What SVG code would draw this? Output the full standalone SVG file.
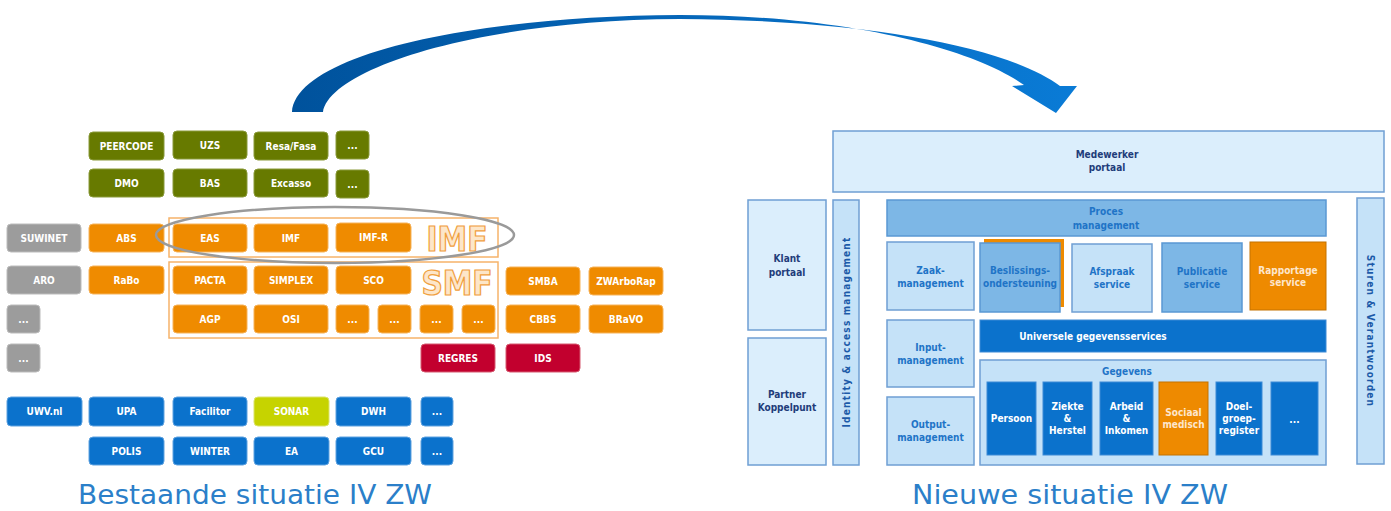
<svg xmlns="http://www.w3.org/2000/svg" width="1391" height="511" viewBox="0 0 1391 511">
<defs>
<linearGradient id="arrowGrad" x1="0" y1="0" x2="1" y2="0">
<stop offset="0" stop-color="#00529c"/>
<stop offset="1" stop-color="#0a7bd6"/>
</linearGradient>
<style>
.bx{stroke-width:1;rx:4;ry:4}
.g{fill:#677a00;stroke:#8a9a3a}
.o{fill:#ef8b00;stroke:#f6b35a}
.gr{fill:#9c9c9c;stroke:#bcbcbc}
.r{fill:#c2002e;stroke:#d65a70}
.b{fill:#0b72cc;stroke:#5fa2e0}
.l{fill:#c6d300;stroke:#dbe36a}
.t{font-family:"DejaVu Sans Condensed","DejaVu Sans",sans-serif;font-weight:bold;font-size:10px;fill:#ffffff;text-anchor:middle}
.frame{fill:none;stroke:#f6b36a;stroke-width:1.5}
.big{font-family:"DejaVu Sans Condensed","DejaVu Sans",sans-serif;font-weight:bold;font-size:33px;fill:#fde6c9;stroke:#f0a040;stroke-width:1.2;text-anchor:middle}
.title{font-family:"DejaVu Sans",Verdana,sans-serif;font-size:26px;fill:#2b7fc9;text-anchor:middle}
.p1{fill:#dbeefc;stroke:#6f9fd3;stroke-width:1.5}
.p2{fill:#c5e2f8;stroke:#6f9fd3;stroke-width:1.5}
.p3{fill:#7db7e6;stroke:#5a98d3;stroke-width:1.5}
.p4{fill:#0b72cc;stroke:#3d8ad6;stroke-width:1}
.p5{fill:#ee8a00;stroke:#c47200;stroke-width:1}
.rt{font-family:"DejaVu Sans Condensed","DejaVu Sans",sans-serif;font-weight:bold;font-size:10px;text-anchor:middle}
.vt{letter-spacing:1.2px}
.navy{fill:#1f3d7a}
.mb{fill:#1f74c7}
.w{fill:#ffffff}
.cream{fill:#fde6cc}
</style>
</defs>
<rect width="1391" height="511" fill="#ffffff"/>

<g id="connectors">
<path d="M292,112 C296,55 470,16 680,15 C850,15 975,50 1024,85 L1012,86 L1056,113 L1077,86 L1060,86 C1010,48 870,20 680,19 C480,20 330,68 323,112 Z" fill="url(#arrowGrad)"/>
</g>

<!-- LEFT: existing situation -->
<g id="imf-frame"><rect class="frame" x="169" y="218" width="329" height="39"/><text class="big" x="457" y="251">IMF</text></g>
<g id="smf-frame"><rect class="frame" x="169" y="262" width="329" height="76"/><text class="big" x="457" y="295">SMF</text></g>

<g id="peercode"><rect class="bx g" x="89" y="132" width="75" height="28"/><text class="t" x="126.5" y="149.5">PEERCODE</text></g>
<g id="uzs"><rect class="bx g" x="173" y="131" width="74" height="28"/><text class="t" x="210" y="148.5">UZS</text></g>
<g id="resafasa"><rect class="bx g" x="254" y="132" width="74" height="28"/><text class="t" x="291" y="149.5">Resa/Fasa</text></g>
<g id="green-more1"><rect class="bx g" x="336" y="131" width="33" height="28"/><text class="t" x="352.5" y="148.5">...</text></g>
<g id="dmo"><rect class="bx g" x="89" y="169" width="75" height="28"/><text class="t" x="126.5" y="186.5">DMO</text></g>
<g id="bas"><rect class="bx g" x="173" y="169" width="74" height="28"/><text class="t" x="210" y="186.5">BAS</text></g>
<g id="excasso"><rect class="bx g" x="254" y="169" width="74" height="28"/><text class="t" x="291" y="186.5">Excasso</text></g>
<g id="green-more2"><rect class="bx g" x="336" y="170" width="33" height="28"/><text class="t" x="352.5" y="187.5">...</text></g>

<g id="suwinet"><rect class="bx gr" x="7" y="224" width="74" height="28"/><text class="t" x="44" y="241.5">SUWINET</text></g>
<g id="abs"><rect class="bx o" x="89" y="224" width="75" height="28"/><text class="t" x="126.5" y="241.5">ABS</text></g>
<g id="eas"><rect class="bx o" x="173" y="224" width="74" height="28"/><text class="t" x="210" y="241.5">EAS</text></g>
<g id="imf"><rect class="bx o" x="254" y="224" width="74" height="28"/><text class="t" x="291" y="241.5">IMF</text></g>
<g id="imf-r"><rect class="bx o" x="336" y="223" width="75" height="29"/><text class="t" x="373.5" y="241">IMF-R</text></g>

<g id="aro"><rect class="bx gr" x="7" y="266" width="74" height="28"/><text class="t" x="44" y="283.5">ARO</text></g>
<g id="rabo"><rect class="bx o" x="89" y="266" width="75" height="28"/><text class="t" x="126.5" y="283.5">RaBo</text></g>
<g id="pacta"><rect class="bx o" x="173" y="266" width="74" height="28"/><text class="t" x="210" y="283.5">PACTA</text></g>
<g id="simplex"><rect class="bx o" x="254" y="266" width="74" height="28"/><text class="t" x="291" y="283.5">SIMPLEX</text></g>
<g id="sco"><rect class="bx o" x="336" y="266" width="75" height="28"/><text class="t" x="373.5" y="283.5">SCO</text></g>
<g id="smba"><rect class="bx o" x="506" y="267" width="74" height="28"/><text class="t" x="543" y="284.5">SMBA</text></g>
<g id="zwarborap"><rect class="bx o" x="589" y="267" width="74" height="28"/><text class="t" x="626" y="284.5">ZWArboRap</text></g>

<g id="grey-more1"><rect class="bx gr" x="7" y="305" width="33" height="28"/><text class="t" x="23.5" y="322.5">...</text></g>
<g id="agp"><rect class="bx o" x="173" y="305" width="74" height="28"/><text class="t" x="210" y="322.5">AGP</text></g>
<g id="osi"><rect class="bx o" x="254" y="305" width="74" height="28"/><text class="t" x="291" y="322.5">OSI</text></g>
<g id="smf-more1"><rect class="bx o" x="336" y="305" width="33" height="28"/><text class="t" x="352.5" y="322.5">...</text></g>
<g id="smf-more2"><rect class="bx o" x="378" y="305" width="33" height="28"/><text class="t" x="394.5" y="322.5">...</text></g>
<g id="smf-more3"><rect class="bx o" x="420" y="305" width="33" height="28"/><text class="t" x="436.5" y="322.5">...</text></g>
<g id="smf-more4"><rect class="bx o" x="462" y="305" width="33" height="28"/><text class="t" x="478.5" y="322.5">...</text></g>
<g id="cbbs"><rect class="bx o" x="506" y="305" width="74" height="28"/><text class="t" x="543" y="322.5">CBBS</text></g>
<g id="bravo"><rect class="bx o" x="589" y="305" width="74" height="28"/><text class="t" x="626" y="322.5">BRaVO</text></g>

<g id="grey-more2"><rect class="bx gr" x="7" y="344" width="33" height="28"/><text class="t" x="23.5" y="361.5">...</text></g>
<g id="regres"><rect class="bx r" x="421" y="344" width="74" height="28"/><text class="t" x="458" y="361.5">REGRES</text></g>
<g id="ids"><rect class="bx r" x="506" y="344" width="74" height="28"/><text class="t" x="543" y="361.5">IDS</text></g>

<g id="uwvnl"><rect class="bx b" x="7" y="397" width="75" height="29"/><text class="t" x="44.5" y="415">UWV.nl</text></g>
<g id="upa"><rect class="bx b" x="89" y="397" width="75" height="29"/><text class="t" x="126.5" y="415">UPA</text></g>
<g id="facilitor"><rect class="bx b" x="173" y="397" width="74" height="29"/><text class="t" x="210" y="415">Facilitor</text></g>
<g id="sonar"><rect class="bx l" x="254" y="397" width="75" height="29"/><text class="t" x="291.5" y="415">SONAR</text></g>
<g id="dwh"><rect class="bx b" x="336" y="397" width="75" height="29"/><text class="t" x="373.5" y="415">DWH</text></g>
<g id="blue-more1"><rect class="bx b" x="421" y="397" width="32" height="29"/><text class="t" x="437" y="415">...</text></g>
<g id="polis"><rect class="bx b" x="89" y="437" width="75" height="28"/><text class="t" x="126.5" y="454.5">POLIS</text></g>
<g id="winter"><rect class="bx b" x="173" y="437" width="74" height="28"/><text class="t" x="210" y="454.5">WINTER</text></g>
<g id="ea"><rect class="bx b" x="254" y="437" width="75" height="28"/><text class="t" x="291.5" y="454.5">EA</text></g>
<g id="gcu"><rect class="bx b" x="336" y="437" width="75" height="28"/><text class="t" x="373.5" y="454.5">GCU</text></g>
<g id="blue-more2"><rect class="bx b" x="421" y="437" width="32" height="28"/><text class="t" x="437" y="454.5">...</text></g>

<g id="imf-ellipse"><ellipse cx="335" cy="235" rx="179" ry="28" fill="none" stroke="#9a9a9a" stroke-width="2.5"/></g>

<g id="title-left"><text class="title" x="255" y="504" textLength="354" lengthAdjust="spacingAndGlyphs">Bestaande situatie IV ZW</text></g>

<!-- RIGHT: new situation -->
<g id="medewerker"><rect class="p1" x="833" y="131" width="551" height="61"/><text class="rt navy" x="1107" y="158">Medewerker</text><text class="rt navy" x="1107" y="171">portaal</text></g>
<g id="klant"><rect class="p1" x="748" y="200" width="78" height="130"/><text class="rt navy" x="787" y="262">Klant</text><text class="rt navy" x="787" y="276">portaal</text></g>
<g id="partner"><rect class="p1" x="748" y="338" width="78" height="127"/><text class="rt navy" x="787" y="398">Partner</text><text class="rt navy" x="787" y="411">Koppelpunt</text></g>
<g id="identity"><rect class="p2" x="833" y="200" width="26" height="265"/><text class="rt vt" fill="#1c5aa8" transform="translate(849.5,332) rotate(-90)">Identity &amp; access management</text></g>
<g id="sturen"><rect class="p2" x="1357" y="198" width="27" height="266"/><text class="rt vt" fill="#1c5aa8" transform="translate(1367,331) rotate(90)">Sturen &amp; Verantwoorden</text></g>
<g id="proces"><rect class="p3" x="887" y="200" width="439" height="36"/><text class="rt mb" x="1106" y="215">Proces</text><text class="rt mb" x="1106" y="229">management</text></g>
<g id="zaak"><rect class="p2" x="887" y="242" width="87" height="68"/><text class="rt mb" x="930.5" y="274">Zaak-</text><text class="rt mb" x="930.5" y="287">management</text></g>
<g id="beslissing"><rect x="984" y="239" width="80" height="68" fill="#ee8a00"/><rect class="p3" x="980" y="243" width="80" height="69"/><text class="rt mb" x="1020" y="274">Beslissings-</text><text class="rt mb" x="1020" y="287">ondersteuning</text></g>
<g id="afspraak"><rect class="p2" x="1072" y="244" width="80" height="68"/><text class="rt mb" x="1112" y="275">Afspraak</text><text class="rt mb" x="1112" y="288">service</text></g>
<g id="publicatie"><rect class="p3" x="1162" y="243" width="80" height="69"/><text class="rt mb" x="1202" y="275">Publicatie</text><text class="rt mb" x="1202" y="288">service</text></g>
<g id="rapportage"><rect class="p5" x="1250" y="242" width="76" height="68"/><text class="rt cream" x="1288" y="274">Rapportage</text><text class="rt cream" x="1288" y="286">service</text></g>
<g id="input"><rect class="p2" x="887" y="320" width="87" height="67"/><text class="rt mb" x="930.5" y="351">Input-</text><text class="rt mb" x="930.5" y="364">management</text></g>
<g id="output"><rect class="p2" x="887" y="397" width="87" height="68"/><text class="rt mb" x="930.5" y="428">Output-</text><text class="rt mb" x="930.5" y="441">management</text></g>
<g id="universele"><rect class="p4" x="980" y="320" width="346" height="32"/><text class="rt w" x="1093" y="340">Universele gegevensservices</text></g>
<g id="gegevens"><rect class="p2" x="980" y="360" width="346" height="105"/><text class="rt mb" x="1127" y="375">Gegevens</text></g>
<g id="persoon"><rect class="p4" x="987" y="382" width="49" height="73"/><text class="rt w" x="1011.5" y="422">Persoon</text></g>
<g id="ziekte"><rect class="p4" x="1043" y="382" width="49" height="73"/><text class="rt w" x="1067.5" y="410">Ziekte</text><text class="rt w" x="1067.5" y="422">&amp;</text><text class="rt w" x="1067.5" y="434">Herstel</text></g>
<g id="arbeid"><rect class="p4" x="1100" y="382" width="53" height="73"/><text class="rt w" x="1126.5" y="410">Arbeid</text><text class="rt w" x="1126.5" y="422">&amp;</text><text class="rt w" x="1126.5" y="434">Inkomen</text></g>
<g id="sociaal"><rect class="p5" x="1159" y="382" width="49" height="73"/><text class="rt cream" x="1183.5" y="416">Sociaal</text><text class="rt cream" x="1183.5" y="428">medisch</text></g>
<g id="doelgroep"><rect class="p4" x="1216" y="382" width="46" height="73"/><text class="rt w" x="1239" y="410">Doel-</text><text class="rt w" x="1239" y="422">groep-</text><text class="rt w" x="1239" y="434">register</text></g>
<g id="data-more"><rect class="p4" x="1271" y="382" width="47" height="73"/><text class="rt w" x="1294.5" y="423">...</text></g>

<g id="title-right"><text class="title" x="1070" y="504" textLength="316" lengthAdjust="spacingAndGlyphs">Nieuwe situatie IV ZW</text></g>
</svg>
